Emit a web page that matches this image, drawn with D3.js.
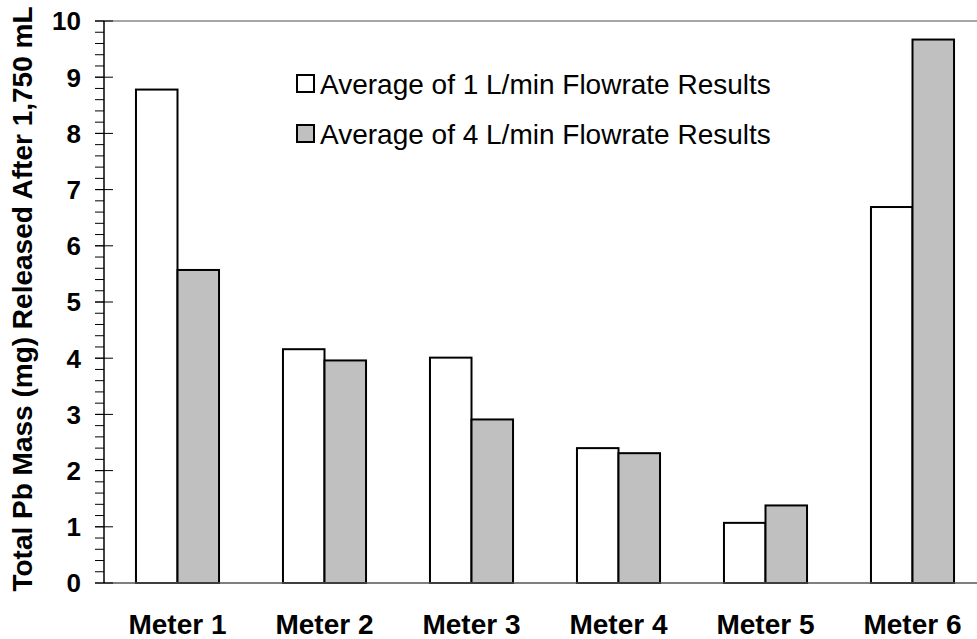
<!DOCTYPE html>
<html>
<head>
<meta charset="utf-8">
<script src="https://cdn.jsdelivr.net/npm/d3@7"></script>
<style>
  body { margin: 0; background: #fff; }
  svg { display: block; font-family: Arial, "Liberation Sans", sans-serif; }
</style>
</head>
<body>
<svg id="chart" width="977" height="639"></svg>
<script>
var meters = ["Meter 1", "Meter 2", "Meter 3", "Meter 4", "Meter 5", "Meter 6"];
var seriesNames = ["Average of 1 L/min Flowrate Results", "Average of 4 L/min Flowrate Results"];
var flow1 = [8.78, 4.16, 4.01, 2.40, 1.07, 6.69];
var flow4 = [5.57, 3.96, 2.91, 2.31, 1.38, 9.67];
var yTicks = [0, 1, 2, 3, 4, 5, 6, 7, 8, 9, 10];

var svg = d3.select("#chart"),
    plotLeft = 104, plotRight = 986, plotTop = 21, plotBottom = 583;

var x0 = d3.scaleBand()
    .domain(meters)
    .range([plotLeft, plotRight])
    .paddingInner(0.435)
    .paddingOuter(0.2175);

var x1 = d3.scaleBand()
    .domain([0, 1])
    .range([0, x0.bandwidth()]);

var y = d3.scaleLinear()
    .domain([0, 10])
    .range([plotBottom, plotTop]);

var colors = ["#ffffff", "#c0c0c0"];

// top frame line
svg.append("line")
    .attr("x1", plotLeft).attr("x2", 977)
    .attr("y1", y(10)).attr("y2", y(10))
    .attr("stroke", "#888").attr("stroke-width", 1.5);

// bars
var rows = meters.map(function (m, i) { return { meter: m, vals: [flow1[i], flow4[i]] }; });

var groups = svg.selectAll(".grp")
    .data(rows)
    .enter().append("g")
    .attr("class", "grp")
    .attr("transform", function (d) { return "translate(" + x0(d.meter) + ",0)"; });

groups.selectAll("rect")
    .data(function (d) { return d.vals.map(function (v, k) { return { k: k, v: v }; }); })
    .enter().append("rect")
    .attr("x", function (d) { return x1(d.k); })
    .attr("width", x1.bandwidth())
    .attr("y", function (d) { return y(d.v); })
    .attr("height", function (d) { return y(0) - y(d.v); })
    .attr("fill", function (d) { return colors[d.k]; })
    .attr("stroke", "#000")
    .attr("stroke-width", 2);

// baseline
svg.append("line")
    .attr("x1", plotLeft).attr("x2", 977)
    .attr("y1", y(0)).attr("y2", y(0))
    .attr("stroke", "#555").attr("stroke-width", 1.5);

// y axis: minor ticks every 0.2
var minor = d3.range(0, 10.001, 0.2);
svg.selectAll(".minor")
    .data(minor)
    .enter().append("line")
    .attr("x1", plotLeft - 9).attr("x2", plotLeft)
    .attr("y1", function (d) { return y(d); })
    .attr("y2", function (d) { return y(d); })
    .attr("stroke", "#000").attr("stroke-width", 1);

// major ticks cross the axis
svg.selectAll(".major")
    .data(yTicks)
    .enter().append("line")
    .attr("x1", plotLeft - 9).attr("x2", plotLeft + 9)
    .attr("y1", function (d) { return y(d); })
    .attr("y2", function (d) { return y(d); })
    .attr("stroke", "#000").attr("stroke-width", 1);

svg.append("line")
    .attr("x1", plotLeft).attr("x2", plotLeft)
    .attr("y1", y(0)).attr("y2", y(10))
    .attr("stroke", "#000").attr("stroke-width", 1.5);

svg.selectAll(".ylab")
    .data(yTicks)
    .enter().append("text")
    .attr("x", 81)
    .attr("y", function (d) { return y(d); })
    .attr("dy", "0.36em")
    .attr("text-anchor", "end")
    .style("font-size", "26px")
    .style("font-weight", "bold")
    .text(function (d) { return d; });

// category labels
svg.selectAll(".xlab")
    .data(meters)
    .enter().append("text")
    .attr("x", function (d) { return x0(d) + x0.bandwidth() / 2; })
    .attr("y", 634)
    .attr("text-anchor", "middle")
    .style("font-size", "28px")
    .style("font-weight", "bold")
    .text(function (d) { return d; });

// y axis title
svg.append("text")
    .attr("transform", "translate(32,299) rotate(-90)")
    .attr("text-anchor", "middle")
    .style("font-size", "28px")
    .style("font-weight", "bold")
    .text("Total Pb Mass (mg) Released After 1,750 mL");

// legend
var legend = svg.selectAll(".leg")
    .data(seriesNames)
    .enter().append("g")
    .attr("transform", function (d, i) { return "translate(297," + (75 + i * 50) + ")"; });

legend.append("rect")
    .attr("width", 17).attr("height", 17)
    .attr("fill", function (d, i) { return colors[i]; })
    .attr("stroke", "#000").attr("stroke-width", 2);

legend.append("text")
    .attr("x", 23)
    .attr("y", 8.5)
    .attr("dy", "0.36em")
    .style("font-size", "28px")
    .text(function (d) { return d; });
</script>
</body>
</html>
